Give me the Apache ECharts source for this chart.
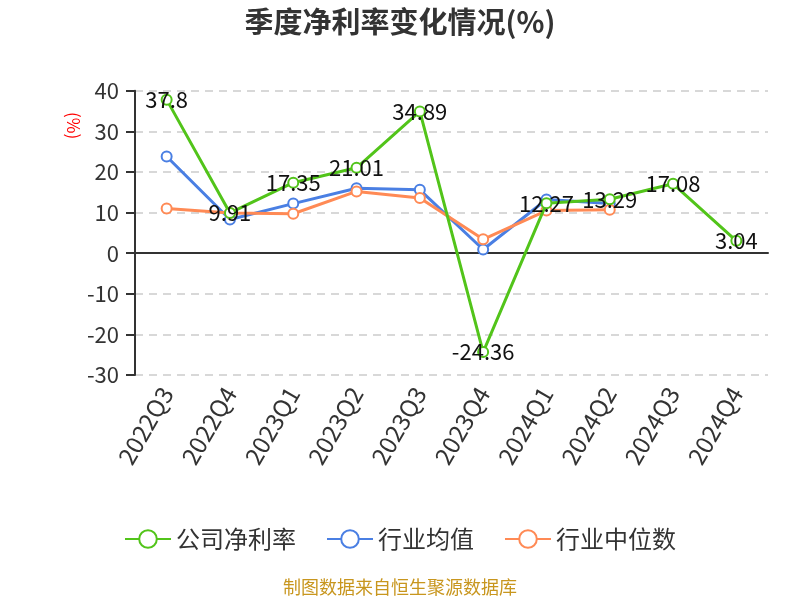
<!DOCTYPE html>
<html><head><meta charset="utf-8">
<script src="https://cdn.jsdelivr.net/npm/echarts@6/dist/echarts.min.js"></script>
<style>html,body{margin:0;padding:0;background:#fff}#c{width:800px;height:600px}</style>
</head><body><div id="c"></div>
<script>
const categories = ['2022Q3','2022Q4','2023Q1','2023Q2','2023Q3','2023Q4','2024Q1','2024Q2','2024Q3','2024Q4'];
const companyRate = [37.8, 9.91, 17.35, 21.01, 34.89, -24.36, 12.27, 13.29, 17.08, 3.04];
const industryAvg = [23.8, 8.3, 12.2, 16.0, 15.6, 0.9, 13.2, 12.2, null, null];
const industryMedian = [11.0, 9.9, 9.7, 15.2, 13.6, 3.4, 10.5, 10.7, null, null];
const yTicks = {min: -30, max: 40, interval: 10};

const chart = echarts.init(document.getElementById('c'));
const font = '"Noto Sans CJK SC","Noto Sans",sans-serif';
const G = '#52c41a', B = '#4a7fe3', O = '#ff8a55';
chart.setOption({
  animation: false,
  title: {text: '季度净利率变化情况(%)', left: 'center', top: 2,
    textStyle: {fontSize: 29, fontWeight: 'bold', color: '#333', fontFamily: font}},
  grid: {left: 135, right: 32, top: 90.7, bottom: 225},
  legend: {bottom: 44, itemWidth: 46, itemHeight: 22, itemGap: 30,
    textStyle: {fontSize: 24, color: '#333', fontFamily: font},
    data: ['公司净利率','行业均值','行业中位数']},
  graphic: [
    {type: 'text', left: 'center', top: 578, style: {text: '制图数据来自恒生聚源数据库', fill: '#c8961e', font: '18px ' + font}},
    {type: 'text', x: 82, y: 112, rotation: -Math.PI/2, originX: 0, originY: 0, style: {text: '(%)', fill: '#ff0000', font: '17px ' + font}}
  ],
  xAxis: {type: 'category', data: categories, boundaryGap: true,
    axisLine: {onZero: true, lineStyle: {color: '#333', width: 2}},
    axisTick: {length: 8, lineStyle: {color: '#333', width: 2}},
    axisLabel: {rotate: 60, fontSize: 24, color: '#333', margin: 14, fontFamily: font}},
  yAxis: {type: 'value', min: yTicks.min, max: yTicks.max, interval: yTicks.interval,
    axisLine: {show: true, lineStyle: {color: '#333', width: 2}},
    axisTick: {show: true, length: 9, lineStyle: {color: '#333', width: 2}},
    axisLabel: {fontSize: 22, color: '#333', margin: 16, fontFamily: font},
    splitLine: {lineStyle: {type: [8, 6], color: '#ccc', width: 1.5}}},
  series: [
    {name: '公司净利率', type: 'line', data: companyRate, symbol: 'circle', symbolSize: 10,
      itemStyle: {color: '#fff', borderColor: G, borderWidth: 2},
      lineStyle: {width: 3, color: G},
      label: {show: true, position: 'inside', fontSize: 22, color: '#111', fontFamily: font},
      z: 3},
    {name: '行业均值', type: 'line', data: industryAvg, symbol: 'circle', symbolSize: 10,
      itemStyle: {color: '#fff', borderColor: B, borderWidth: 2}, lineStyle: {width: 3, color: B}, z: 2},
    {name: '行业中位数', type: 'line', data: industryMedian, symbol: 'circle', symbolSize: 10,
      itemStyle: {color: '#fff', borderColor: O, borderWidth: 2}, lineStyle: {width: 3, color: O}, z: 2}
  ]
});
</script></body></html>
